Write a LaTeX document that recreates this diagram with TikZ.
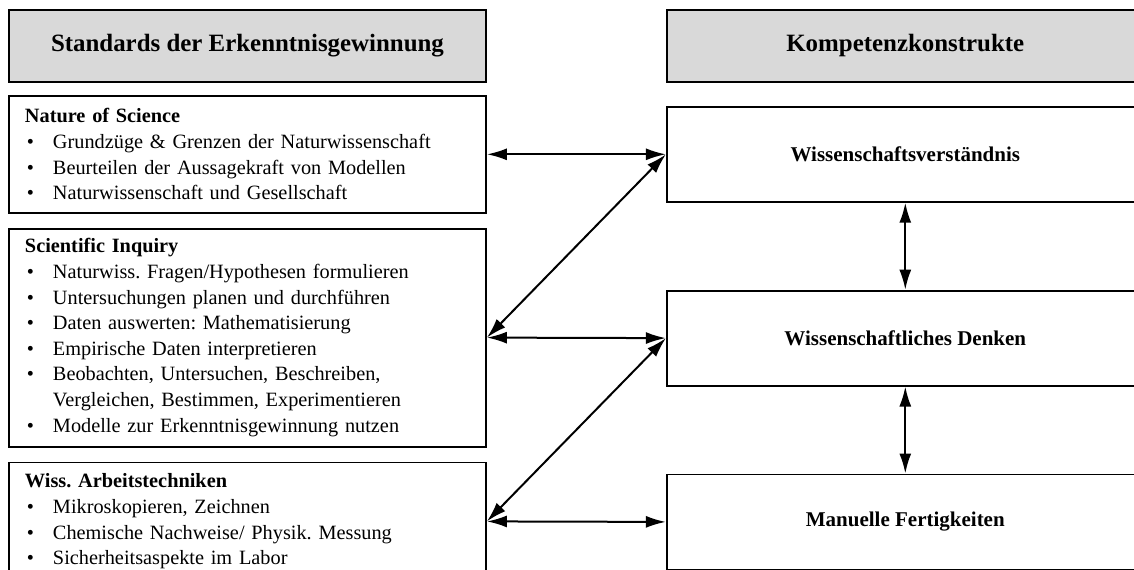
\documentclass[tikz,border=0pt]{standalone}
\usepackage{fontspec}
\setmainfont{Liberation Serif}
\usepackage{xcolor}
\usepackage{tikz}
\usetikzlibrary{arrows.meta}
\usetikzlibrary{positioning}

\definecolor{headgray}{RGB}{217,217,217}
\newcommand{\bul}[1]{\hspace*{1pt}\makebox[13pt][l]{\textbullet}#1}
\frenchspacing

\tikzset{
  headbox/.style={draw, line width=0.9pt, fill=headgray, minimum width=238.5pt,
    minimum height=36pt, font=\fontsize{12.45}{14}\selectfont\bfseries},
  listbox/.style={draw, line width=0.9pt, text width=222.5pt, inner xsep=8pt,
    align=left, font=\fontsize{10.15}{12.8}\selectfont},
  konbox/.style={draw, line width=0.9pt, minimum width=238.5pt,
    minimum height=47.5pt, font=\fontsize{10.5}{12}\selectfont\bfseries},
  link/.style={{Latex[length=10pt,width=6pt]}-{Latex[length=10pt,width=6pt]},
    line width=1pt},
}

\begin{document}
\begin{tikzpicture}
        \path[use as bounding box, clip] (-123.75pt,23pt) rectangle ++(567pt,-284.5pt);
        % Nodes
        \node[headbox]                                        (stdhead)  {Standards der Erkenntnisgewinnung};
        \node[headbox, right=89.5pt of stdhead]               (komphead) {Kompetenzkonstrukte};
        \node[listbox, minimum height=58.5pt, below=6pt of stdhead] (nos) {%
          \textbf{Nature of Science}\\
          \bul{Grundzüge \& Grenzen der Naturwissenschaft}\\
          \bul{Beurteilen der Aussagekraft von Modellen}\\
          \bul{Naturwissenschaft und Gesellschaft}};
        \node[listbox, minimum height=109pt, below=7pt of nos] (inq) {%
          \textbf{Scientific Inquiry}\\
          \bul{Naturwiss. Fragen/Hypothesen formulieren}\\
          \bul{Untersuchungen planen und durchführen}\\
          \bul{Daten auswerten: Mathematisierung}\\
          \bul{Empirische Daten interpretieren}\\
          \bul{Beobachten, Untersuchen, Beschreiben,}\\
          \hspace*{14pt}Vergleichen, Bestimmen, Experimentieren\\
          \bul{Modelle zur Erkenntnisgewinnung nutzen}};
        \node[listbox, minimum height=59pt, below=7pt of inq] (tech) {%
          \textbf{Wiss. Arbeitstechniken}\\
          \bul{Mikroskopieren, Zeichnen}\\
          \bul{Chemische Nachweise/ Physik. Messung}\\
          \bul{Sicherheitsaspekte im Labor}};
        \node[konbox, below=11.5pt of komphead] (wv) {Wissenschaftsverständnis};
        \node[konbox, below=43.5pt of wv]       (wd) {Wissenschaftliches Denken};
        \node[konbox, below=43.5pt of wd]       (mf) {Manuelle Fertigkeiten};
        % Edges
        \draw[link] (nos.east)  -- (wv.west);
        \draw[link] (inq.east)  -- (wv.west);
        \draw[link] (inq.east)  -- (wd.west);
        \draw[link] (tech.east) -- (wd.west);
        \draw[link] (tech.east) -- (mf.west);
        \draw[link] (wv.south)  -- (wd.north);
        \draw[link] (wd.south)  -- (mf.north);
    \end{tikzpicture}
\end{document}
